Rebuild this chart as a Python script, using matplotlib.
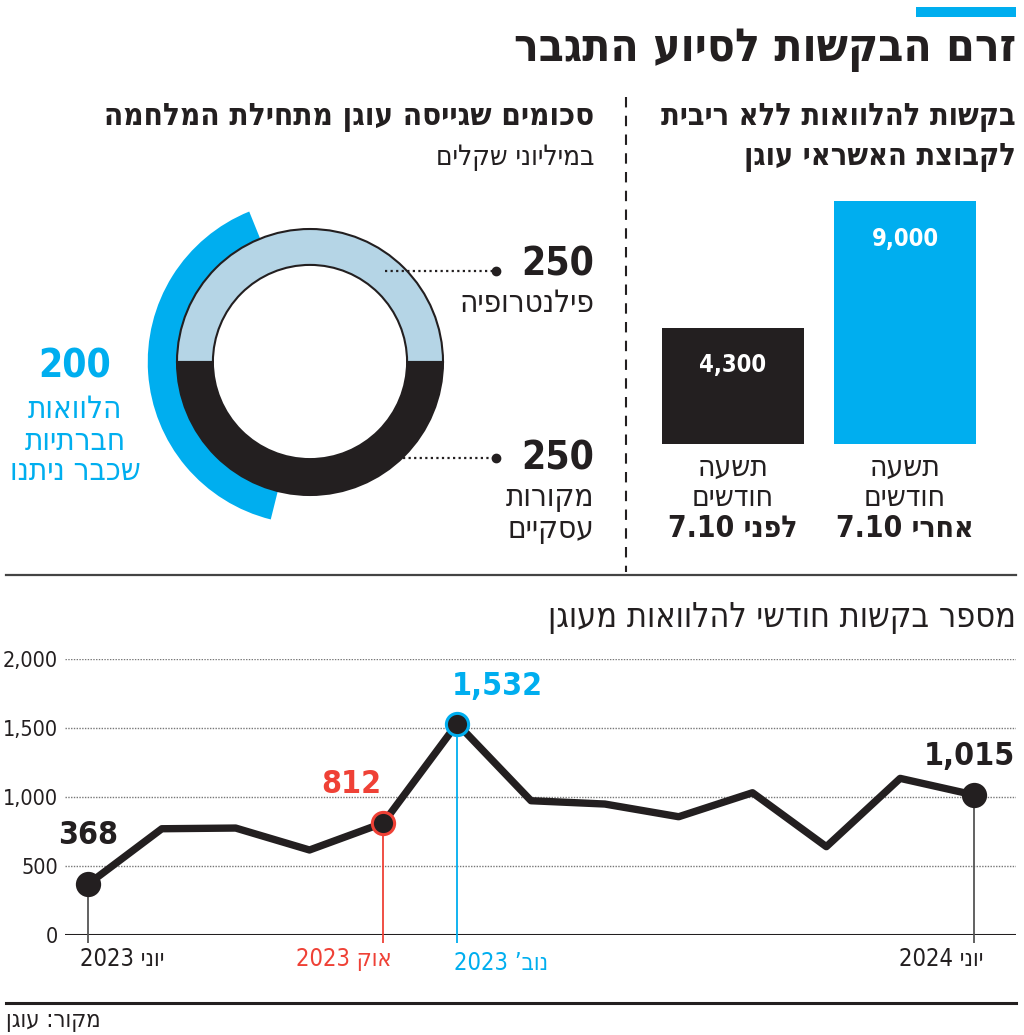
import re
import matplotlib
matplotlib.use("Agg")
import matplotlib.pyplot as plt

# ---- data ----
bar_labels = ["לפני", "אחרי"]          # left to right on the page
bar_values = [4300, 9000]

donut_labels = ["פילנטרופיה", "מקורות עסקיים"]
donut_values = [250, 250]
given_loans = 200

months = ["יוני 2023", "יולי", "אוג", "ספט", "אוק 2023", "נוב’ 2023", "דצמ",
          "ינו", "פבר", "מרץ", "אפר", "מאי", "יוני 2024"]
requests = [368, 770, 775, 616, 812, 1532, 973, 949, 857, 1031, 640, 1135, 1015]

BLUE = "#00AEEF"
BLACK = "#231F20"
LIGHT = "#B5D5E6"
RED = "#EF4136"
GRAY = "#555555"
W, H = 1024, 1035

plt.rcParams["font.family"] = ["DejaVu Sans"]
plt.rcParams["font.stretch"] = "condensed"


def rtl(s):
    # matplotlib has no bidi support: put Hebrew in visual order, keep numbers
    r = s[::-1]
    return re.sub(r"[0-9][0-9.,]*", lambda m: m.group(0)[::-1], r)


def box(x0, y0, x1, y1):
    return [x0 / W, 1 - y1 / H, (x1 - x0) / W, (y1 - y0) / H]


def ftext(x, y, s, **kw):
    kw.setdefault("va", "center")
    kw.setdefault("color", BLACK)
    return fig.text(x / W, 1 - y / H, s, **kw)


fig = plt.figure(figsize=(W / 100, H / 100), dpi=100)

# overlay for rules and separators (pixel coordinates)
over = fig.add_axes([0, 0, 1, 1])
over.set_xlim(0, W)
over.set_ylim(H, 0)
over.axis("off")
over.fill_between([916, 1016], 7, 17, color=BLUE, lw=0)
over.plot([626, 626], [97, 572], color=BLACK, lw=1.5, ls=(0, (5, 4)))
over.plot([6, 1016], [575, 575], color="#444444", lw=1.6)
over.plot([6, 1016], [1003, 1003], color=BLACK, lw=2.2)

# headings
ftext(1016, 50, rtl("זרם הבקשות לסיוע התגבר"), ha="right", fontsize=33, weight="bold")
ftext(1016, 118, rtl("בקשות להלוואות ללא ריבית"), ha="right", fontsize=22, weight="bold")
ftext(1016, 157, rtl("לקבוצת האשראי עוגן"), ha="right", fontsize=22, weight="bold")
ftext(594, 118, rtl("סכומים שגייסה עוגן מתחילת המלחמה"), ha="right", fontsize=22.5, weight="bold")
ftext(594, 157, rtl("במיליוני שקלים"), ha="right", fontsize=20)
ftext(1016, 617, rtl("מספר בקשות חודשי להלוואות מעוגן"), ha="right", fontsize=24.5)
ftext(6, 1020, rtl("מקור: עוגן"), ha="left", fontsize=17)

# ---- bars ----
axb = fig.add_axes(box(647, 201, 991, 444))
axb.bar(range(len(bar_values)), bar_values, width=0.82, color=[BLACK, BLUE])
axb.set_xlim(-0.5, 1.5)
axb.set_ylim(0, max(bar_values))
axb.axis("off")
for i, (lab, v) in enumerate(zip(bar_labels, bar_values)):
    axb.annotate(f"{v:,}", (i, v), xytext=(0, -27), textcoords="offset points",
                 ha="center", va="center", color="white", fontsize=17, weight="bold")
    for k, (line, wt) in enumerate([("תשעה", "normal"), ("חודשים", "normal"),
                                    (lab + " 7.10", "bold")]):
        axb.annotate(rtl(line), (i, 0), xytext=(0, -17 - 21.8 * k), textcoords="offset points",
                     ha="center", va="center", color=BLACK, fontsize=21.5, weight=wt,
                     annotation_clip=False)

# ---- donut ----
R = 133.0
axd = fig.add_axes(box(310 - 190, 362 - 190, 310 + 190, 362 + 190))
total = sum(donut_values)
axd.pie([given_loans, total - given_loans], colors=[BLUE, "none"], startangle=112,
        radius=1.22, wedgeprops=dict(width=0.3, linewidth=0))
axd.pie(donut_values, colors=[LIGHT, BLACK], startangle=0, radius=1.0,
        wedgeprops=dict(width=0.27, edgecolor=BLACK, linewidth=1.5))
lim = 190 / R
axd.set_xlim(-lim, lim)
axd.set_ylim(-lim, lim)
axd.set_aspect("equal")
axd.axis("off")
for (x0, y0) in [((385 - 310) / R, (362 - 271) / R), ((403 - 310) / R, (362 - 458) / R)]:
    axd.plot([x0, (496 - 310) / R], [y0, y0], color=BLACK, lw=1.6, ls=(0, (1, 1.5)), clip_on=False)
    axd.plot([(496 - 310) / R], [y0], "o", color=BLACK, ms=6, clip_on=False)

ftext(594, 265, f"{donut_values[0]}", ha="right", fontsize=28, weight="bold")
ftext(594, 303, rtl(donut_labels[0]), ha="right", fontsize=22.5)
ftext(594, 458, f"{donut_values[1]}", ha="right", fontsize=28, weight="bold")
for k, w in enumerate(donut_labels[1].split()):
    ftext(594, 497 + 33 * k, rtl(w), ha="right", fontsize=22.5)

ftext(75, 367, f"{given_loans}", ha="center", fontsize=28, weight="bold", color=BLUE)
for k, line in enumerate(["הלוואות", "חברתיות", "שכבר ניתנו"]):
    ftext(75, 410 + 31 * k, rtl(line), ha="center", fontsize=22.5, color=BLUE)

# ---- line chart ----
axl = fig.add_axes(box(65, 659, 1016, 935))
x = list(range(len(requests)))
step = (974 - 88) / 12
axl.set_xlim(-(88 - 65) / step, 12 + (1016 - 974) / step)
axl.set_ylim(0, 2000)
for s in axl.spines.values():
    s.set_visible(False)
axl.set_yticks([0, 500, 1000, 1500, 2000])
axl.set_yticklabels(["0", "500", "1,000", "1,500", "2,000"], fontsize=15.5, color=BLACK)
axl.tick_params(axis="y", length=0, pad=5)
axl.set_xticks([])
for yv in [500, 1000, 1500, 2000]:
    axl.axhline(yv, color="#777777", lw=1, ls=(0, (1, 1)), zorder=1)
axl.axhline(0, color=BLACK, lw=2.2, zorder=2)

hi = {0: (GRAY, BLACK), 4: (RED, RED), 5: (BLUE, BLUE), 12: (GRAY, BLACK)}
for i, (lc, ec) in hi.items():
    axl.vlines(i, -55, requests[i], color=lc, lw=1.3, zorder=3, clip_on=False)
axl.plot(x, requests, color=BLACK, lw=5.3, solid_joinstyle="round", solid_capstyle="round",
         zorder=4, clip_on=False)
for i, (lc, ec) in hi.items():
    axl.plot(i, requests[i], "o", ms=16, color=BLACK, mec=ec, mew=2.2, zorder=5, clip_on=False)

val_kw = dict(textcoords="offset points", va="center", fontsize=23, weight="bold",
              annotation_clip=False)
axl.annotate(f"{requests[0]:,}", (0, requests[0]), xytext=(0, 35), ha="center", color=BLACK, **val_kw)
axl.annotate(f"{requests[4]:,}", (4, requests[4]), xytext=(-23, 28), ha="center", color=RED, **val_kw)
axl.annotate(f"{requests[5]:,}", (5, requests[5]), xytext=(29, 27), ha="center", color=BLUE, **val_kw)
axl.annotate(f"{requests[12]:,}", (12, requests[12]), xytext=(-3, 28), ha="center", color=BLACK, **val_kw)

lab_kw = dict(textcoords="offset points", va="center", fontsize=17, annotation_clip=False)
axl.annotate(rtl(months[0]), (0, 0), xytext=(-6, -17), ha="left", color=BLACK, **lab_kw)
axl.annotate(rtl(months[4]), (4, 0), xytext=(6, -17), ha="right", color=RED, **lab_kw)
axl.annotate(rtl(months[5]), (5, 0), xytext=(-2, -20), ha="left", color=BLUE, **lab_kw)
axl.annotate(rtl(months[12]), (12, 0), xytext=(7, -17), ha="right", color=BLACK, **lab_kw)

fig.savefig("out.png", dpi=100)
